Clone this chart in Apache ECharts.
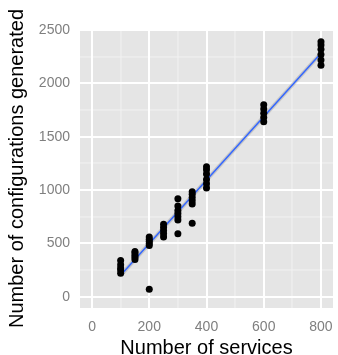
<!DOCTYPE html>
<html>
<head>
<meta charset="utf-8">
<script src="https://cdn.jsdelivr.net/npm/echarts@6/dist/echarts.min.js"></script>
<style>
  html, body { margin: 0; padding: 0; background: #fff; }
  #chart { width: 338px; height: 355px; }
</style>
</head>
<body>
<div id="chart"></div>
<script>
// number of services per run
var services = [
  100, 100, 100, 100, 100,
  150, 150, 150, 150, 150,
  200, 200, 200, 200, 200, 200,
  250, 250, 250, 250, 250,
  300, 300, 300, 300, 300, 300, 300,
  350, 350, 350, 350, 350, 350,
  400, 400, 400, 400, 400, 400,
  600, 600, 600, 600, 600,
  800, 800, 800, 800, 800, 800
];
// configurations generated
var configs = [
  220, 250, 270, 300, 340,
  350, 370, 390, 410, 425,
  480, 500, 520, 540, 560, 70,
  560, 590, 620, 650, 680,
  720, 750, 780, 810, 850, 920, 590,
  870, 900, 930, 960, 985, 690,
  1020, 1060, 1100, 1150, 1190, 1220,
  1640, 1680, 1720, 1760, 1800,
  2170, 2220, 2270, 2320, 2360, 2390
];
var xTicks = [0, 200, 400, 600, 800];
var yTicks = [0, 500, 1000, 1500, 2000, 2500];
var xMinor = [100, 300, 500, 700];
var yMinor = [250, 750, 1250, 1750, 2250];

// lm fit, like geom_smooth(method = "lm")
var n = services.length, sx = 0, sy = 0, sxx = 0, sxy = 0;
for (var i = 0; i < n; i++) {
  sx += services[i]; sy += configs[i];
  sxx += services[i] * services[i]; sxy += services[i] * configs[i];
}
var slope = (n * sxy - sx * sy) / (n * sxx - sx * sx);
var icept = (sy - slope * sx) / n;
var xLo = Math.min.apply(null, services), xHi = Math.max.apply(null, services);
var fit = [[xLo, icept + slope * xLo], [xHi, icept + slope * xHi]];

var pts = services.map(function (s, i) { return [s, configs[i]]; });

// grid lines drawn with a custom series (axis range doesn't start on a tick)
function gridSeries(vertical, vals, color, w) {
  return {
    type: 'custom', silent: true, z: 2, clip: false,
    data: vals.map(function (v) { return [v]; }),
    encode: vertical ? { x: 0 } : { y: 0 },
    renderItem: function (params, api) {
      var cs = params.coordSys;
      var v = api.value(0), shape;
      if (vertical) {
        var px = Math.round(api.coord([v, 0])[0]);
        shape = { x1: px, y1: cs.y, x2: px, y2: cs.y + cs.height };
      } else {
        var py = Math.round(api.coord([0, v])[1]);
        shape = { x1: cs.x, y1: py, x2: cs.x + cs.width, y2: py };
      }
      return { type: 'line', shape: shape, style: { stroke: color, lineWidth: w, fill: null } };
    }
  };
}

var chart = echarts.init(document.getElementById('chart'));
var font = '"Liberation Sans", Arial, sans-serif';
chart.setOption({
  animation: false,
  grid: {
    left: 80, right: 5, top: 29, bottom: 47, outerBoundsMode: 'none', containLabel: false,
    show: true, backgroundColor: '#E5E5E5', borderWidth: 0, z: 0
  },
  xAxis: {
    type: 'value', min: -42, max: 842,
    name: 'Number of services', nameLocation: 'middle', nameGap: 25,
    nameTextStyle: { color: '#000', fontSize: 20, fontFamily: font },
    axisLine: { show: false },
    axisTick: { show: true, length: 5, customValues: xTicks, lineStyle: { color: '#7F7F7F' } },
    axisLabel: { customValues: xTicks, color: '#7F7F7F', fontSize: 14, fontFamily: font, margin: 12,
      formatter: function (v) { return String(v); } },
    splitLine: { show: false }
  },
  yAxis: {
    type: 'value', min: -105, max: 2510,
    name: 'Number of configurations generated', nameLocation: 'middle', nameGap: 53,
    nameTextStyle: { color: '#000', fontSize: 20, fontFamily: font },
    axisLine: { show: false },
    axisTick: { show: true, length: 5, customValues: yTicks, lineStyle: { color: '#7F7F7F' } },
    axisLabel: { customValues: yTicks, color: '#7F7F7F', fontSize: 14, fontFamily: font, margin: 10,
      formatter: function (v) { return String(v); } },
    splitLine: { show: false }
  },
  series: [
    gridSeries(true, xMinor, '#F2F2F2', 1),
    gridSeries(false, yMinor, '#F2F2F2', 1),
    gridSeries(true, xTicks, '#FFFFFF', 2),
    gridSeries(false, yTicks, '#FFFFFF', 2),
    {
      type: 'line', data: fit, z: 3, symbol: 'none', silent: true,
      lineStyle: { color: 'rgba(153,153,153,0.4)', width: 4 }
    },
    {
      type: 'line', data: fit, z: 4, symbol: 'none', silent: true,
      lineStyle: { color: '#3366FF', width: 1.5 }
    },
    {
      type: 'scatter', data: pts, z: 5, symbolSize: 7,
      itemStyle: { color: '#000', opacity: 1, borderWidth: 0 }
    }
  ]
});
</script>
</body>
</html>
